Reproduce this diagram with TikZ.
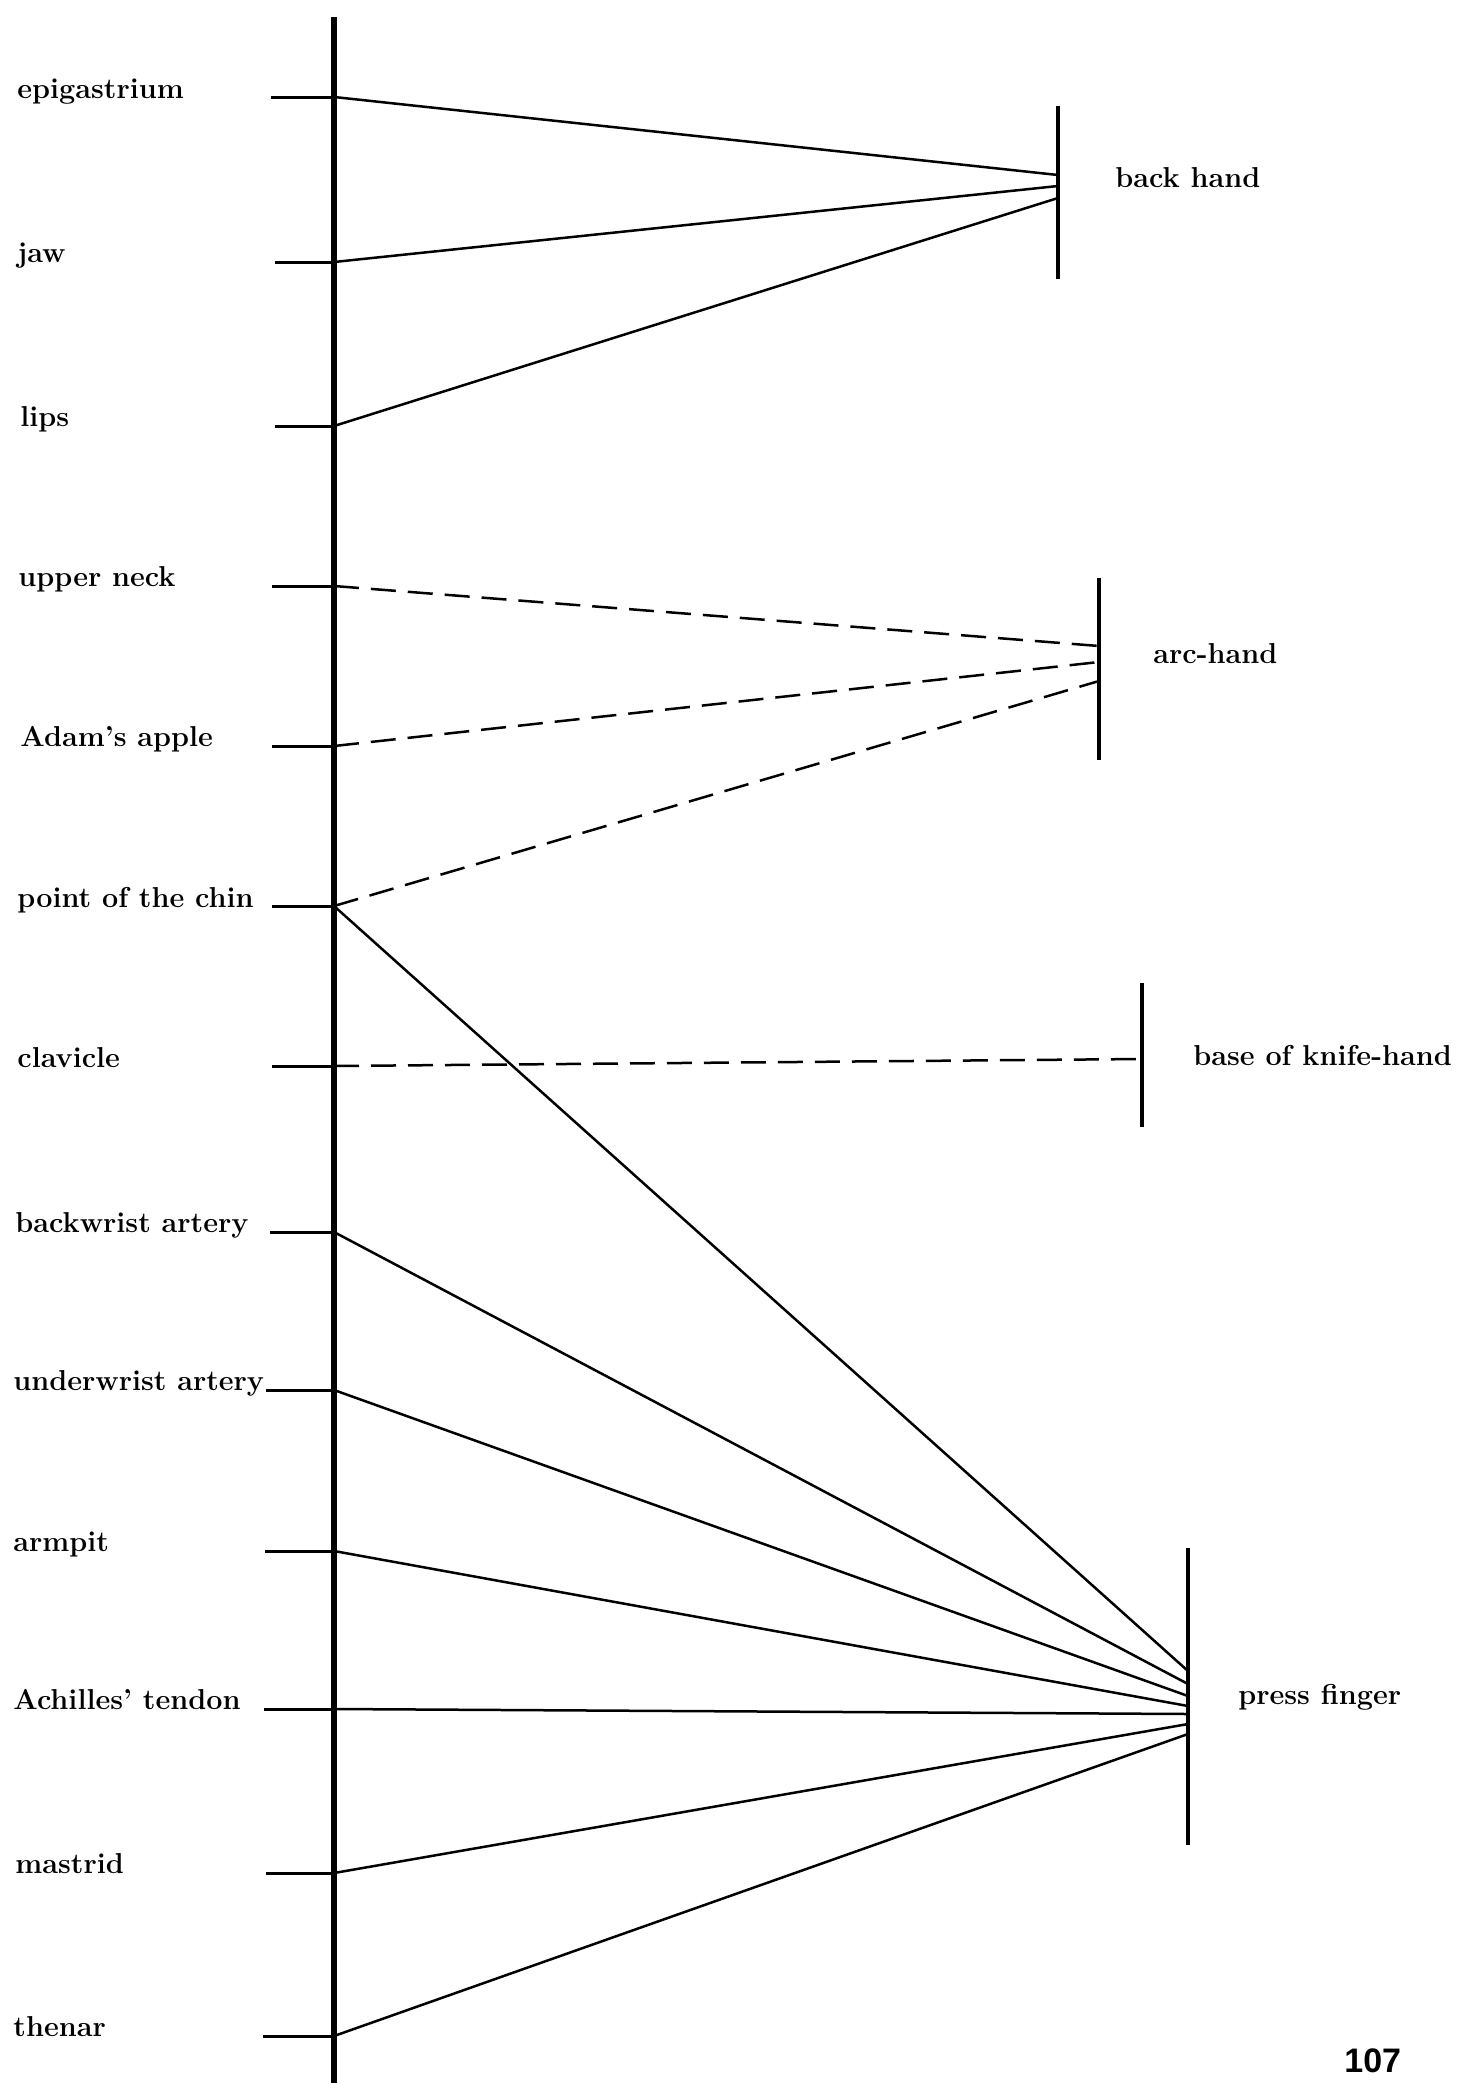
\documentclass[tikz,border=0pt]{standalone}
\usepackage{fontspec}
\newfontfamily\pagenumfont{Liberation Sans}
\begin{document}
\begin{tikzpicture}[x=0.5pt,y=-0.5pt,
  mainline/.style={line width=2.6pt, line cap=butt},
  tickline/.style={line width=1.5pt},
  linkline/.style={line width=1.25pt},
  dlinkline/.style={linkline, dash pattern=on 12.5pt off 6pt},
  barline/.style={line width=2.2pt},
  lbl/.style={font=\fontsize{14.4}{16}\selectfont\bfseries, inner sep=0pt}]
\useasboundingbox (0,0) rectangle (1463,2083);
\clip (0,0) rectangle (1463,2083);

% main vertical axis
\coordinate (mtop) at (334,17);
\coordinate (mbot) at (334,2090);
\draw[mainline] (mtop) -- (mbot);

% points on the axis and tick starts
\coordinate (m1) at (334,97);    \coordinate (t1) at (271,97);
\coordinate (m2) at (334,262);   \coordinate (t2) at (275,262);
\coordinate (m3) at (334,426);   \coordinate (t3) at (275,426);
\coordinate (m4) at (334,586);   \coordinate (t4) at (272,586);
\coordinate (m5) at (334,746);   \coordinate (t5) at (272,746);
\coordinate (m6) at (334,906);   \coordinate (t6) at (272,906);
\coordinate (m7) at (334,1066);  \coordinate (t7) at (272,1066);
\coordinate (m8) at (334,1232);  \coordinate (t8) at (270,1232);
\coordinate (m9) at (334,1390);  \coordinate (t9) at (266,1390);
\coordinate (m10) at (334,1551); \coordinate (t10) at (265,1551);
\coordinate (m11) at (334,1709); \coordinate (t11) at (264,1709);
\coordinate (m12) at (334,1873); \coordinate (t12) at (266,1873);
\coordinate (m13) at (334,2036); \coordinate (t13) at (263,2036);

\foreach \i in {1,...,13} { \draw[tickline] (t\i) -- (m\i); }

% left labels
\node[lbl, anchor=mid west] (l1) at (17,94) {epigastrium};
\node[lbl, anchor=mid west] (l2) at (17,258) {jaw};
\node[lbl, anchor=mid west] (l3) at (20,422) {lips};
\node[lbl, anchor=mid west] (l4) at (18,582) {upper neck};
\node[lbl, anchor=mid west] (l5) at (20,742) {Adam's apple};
\node[lbl, anchor=mid west] (l6) at (17,903) {point of the chin};
\node[lbl, anchor=mid west] (l7) at (17,1063) {clavicle};
\node[lbl, anchor=mid west] (l8) at (15,1228) {backwrist artery};
\node[lbl, anchor=mid west] (l9) at (13,1386) {underwrist artery};
\node[lbl, anchor=mid west] (l10) at (13,1547) {armpit};
\node[lbl, anchor=mid west] (l11) at (13,1705) {Achilles' tendon};
\node[lbl, anchor=mid west] (l12) at (15,1869) {mastrid};
\node[lbl, anchor=mid west] (l13) at (13,2032) {thenar};

% back hand
\coordinate (bhT) at (1058,106); \coordinate (bhB) at (1058,279);
\draw[barline] (bhT) -- (bhB);
\coordinate (bh1) at (1058,175);
\coordinate (bh2) at (1058,186);
\coordinate (bh3) at (1058,198);
\node[lbl, anchor=mid west] (bh) at (1115,183) {back hand};
\draw[linkline] (m1) -- (bh1);
\draw[linkline] (m2) -- (bh2);
\draw[linkline] (m3) -- (bh3);

% arc-hand
\coordinate (ahT) at (1099,578); \coordinate (ahB) at (1099,760);
\draw[barline] (ahT) -- (ahB);
\coordinate (ah1) at (1099,646);
\coordinate (ah2) at (1099,662);
\coordinate (ah3) at (1099,681);
\node[lbl, anchor=mid west] (ah) at (1153,659) {arc-hand};
\draw[dlinkline] (m4) -- (ah1);
\draw[dlinkline] (m5) -- (ah2);
\draw[dlinkline] (m6) -- (ah3);

% base of knife-hand
\coordinate (khT) at (1142,983); \coordinate (khB) at (1142,1127);
\draw[barline] (khT) -- (khB);
\coordinate (kh1) at (1142,1059);
\node[lbl, anchor=mid west] (kh) at (1193,1061) {base of knife-hand};
\draw[dlinkline] (m7) -- (kh1);

% press finger
\coordinate (pfT) at (1188,1548); \coordinate (pfB) at (1188,1845);
\draw[barline] (pfT) -- (pfB);
\coordinate (pf6) at (1188,1671);
\coordinate (pf8) at (1188,1684);
\coordinate (pf9) at (1188,1696);
\coordinate (pf10) at (1188,1706);
\coordinate (pf11) at (1188,1714);
\coordinate (pf12) at (1188,1724);
\coordinate (pf13) at (1188,1734);
\node[lbl, anchor=mid west] (pf) at (1238,1700) {press finger};
\foreach \i in {6,8,9,10,11,12,13} { \draw[linkline] (m\i) -- (pf\i); }

% page number
\node[font=\pagenumfont\bfseries\fontsize{17}{20}\selectfont, inner sep=0pt, anchor=base west] (pg) at (1344,2072) {107};
\end{tikzpicture}
\end{document}
